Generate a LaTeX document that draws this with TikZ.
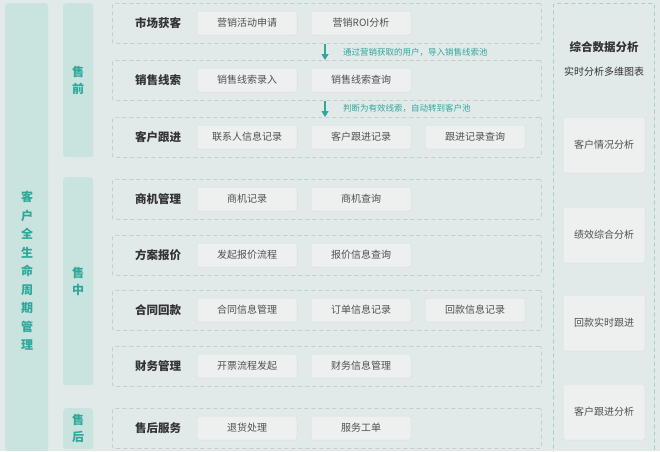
\documentclass[tikz,border=0pt]{standalone}
\usepackage{fontspec}
\setmainfont{Noto Sans CJK SC}
\usetikzlibrary{arrows.meta,calc}
\definecolor{bgc}{HTML}{E2EAE9}
\definecolor{colc}{HTML}{C9E3DF}
\definecolor{tealc}{HTML}{2FA79B}
\definecolor{dashc}{HTML}{C5CECD}
\definecolor{rdashc}{HTML}{A9CEC8}
\definecolor{itemc}{HTML}{EEEFEF}
\definecolor{itemb}{HTML}{D9DEDE}
\definecolor{titc}{HTML}{333333}
\definecolor{txtc}{HTML}{505050}
\tikzset{
  colbox/.style={fill=colc, rounded corners=3pt, inner sep=0pt, anchor=north west},
  stagetxt/.style={text=tealc, font=\fontsize{12}{17}\selectfont\bfseries, align=center},
  rowbox/.style={draw=dashc, line width=0.8pt, dash pattern=on 4pt off 3pt, rounded corners=2pt, fill=bgc, minimum width=429pt, minimum height=40pt, inner sep=0pt, anchor=north west},
  rowtitle/.style={text=titc, font=\fontsize{11.5}{13}\selectfont\bfseries},
  item/.style={fill=itemc, draw=itemb, line width=0.5pt, rounded corners=2pt, minimum width=100pt, minimum height=24pt, inner sep=0pt, text=txtc, font=\fontsize{10}{12}\selectfont},
  ritem/.style={fill=itemc, draw=itemb, line width=0.5pt, rounded corners=2pt, minimum width=82pt, minimum height=56pt, inner sep=0pt, text=txtc, font=\fontsize{10}{12}\selectfont},
  flow/.style={draw=tealc, line width=1.2pt, -{Triangle[length=6pt,width=7pt]}},
  note/.style={text=tealc, font=\fontsize{8.5}{10}\selectfont, anchor=west, inner sep=0pt},
}
\begin{document}
\begin{tikzpicture}[x=1pt,y=-1pt]
\fill[bgc] (0,0) rectangle (660,451);
\useasboundingbox (0,0) rectangle (660,451);
% left lifecycle column
\node[colbox, minimum width=43pt, minimum height=448pt] (life) at (5,3) {};
\node[stagetxt, font=\fontsize{12}{18.5}\selectfont\bfseries] (lifet) at (27,271) {客\\户\\全\\生\\命\\周\\期\\管\\理};
% stage columns
\node[colbox, minimum width=30pt, minimum height=154pt] (pre) at (63,3) {};
\node[stagetxt] (pret) at (pre.center) {售\\前};
\node[colbox, minimum width=30pt, minimum height=208pt] (mid) at (63,177) {};
\node[stagetxt] (midt) at (mid.center) {售\\中};
\node[colbox, minimum width=30pt, minimum height=41pt] (post) at (63,408) {};
\node[stagetxt] (postt) at (post.center) {售\\后};
% rows
\node[rowbox] (r1) at (112,3) {};
\node[rowbox] (r2) at (112,60) {};
\node[rowbox] (r3) at (112,117) {};
\node[rowbox] (r4) at (112,179) {};
\node[rowbox] (r5) at (112,235) {};
\node[rowbox] (r6) at (112,290) {};
\node[rowbox] (r7) at (112,346) {};
\node[rowbox] (r8) at (112,408) {};
% row titles
\node[rowtitle] (t1) at (158,23) {市场获客};
\node[rowtitle] (t2) at (158,80) {销售线索};
\node[rowtitle] (t3) at (158,137) {客户跟进};
\node[rowtitle] (t4) at (158,199) {商机管理};
\node[rowtitle] (t5) at (158,255) {方案报价};
\node[rowtitle] (t6) at (158,310) {合同回款};
\node[rowtitle] (t7) at (158,366) {财务管理};
\node[rowtitle] (t8) at (158,428) {售后服务};
% items
\node[item] (a1) at (247,23) {营销活动申请};
\node[item] (a2) at (361,23) {营销ROI分析};
\node[item] (b1) at (247,80) {销售线索录入};
\node[item] (b2) at (361,80) {销售线索查询};
\node[item] (c1) at (247,137) {联系人信息记录};
\node[item] (c2) at (361,137) {客户跟进记录};
\node[item] (c3) at (475,137) {跟进记录查询};
\node[item] (d1) at (247,199) {商机记录};
\node[item] (d2) at (361,199) {商机查询};
\node[item] (e1) at (247,255) {发起报价流程};
\node[item] (e2) at (361,255) {报价信息查询};
\node[item] (f1) at (247,310) {合同信息管理};
\node[item] (f2) at (361,310) {订单信息记录};
\node[item] (f3) at (475,310) {回款信息记录};
\node[item] (g1) at (247,366) {开票流程发起};
\node[item] (g2) at (361,366) {财务信息管理};
\node[item] (h1) at (247,428) {退货处理};
\node[item] (h2) at (361,428) {服务工单};
% flow arrows
\coordinate (ax) at (325,0);
\draw[flow] (r1.south -| ax) -- (r2.north -| ax);
\draw[flow] (r2.south -| ax) -- (r3.north -| ax);
\node[note] (n1) at (343,52) {通过营销获取的用户，导入销售线索池};
\node[note] (n2) at (343,108) {判断为有效线索，自动转到客户池};
% right analysis column
\node[draw=rdashc, line width=0.8pt, dash pattern=on 4pt off 3pt, rounded corners=2pt, minimum width=101pt, minimum height=450pt, inner sep=0pt, anchor=north west] (ana) at (553,3) {};
\node[text=titc, font=\fontsize{11.5}{13}\selectfont\bfseries] (anat) at (604,47) {综合数据分析};
\node[text=titc, font=\fontsize{10}{12}\selectfont] (anas) at (604,72) {实时分析多维图表};
\node[ritem] (s1) at (604,145) {客户情况分析};
\node[ritem] (s2) at (604,235) {绩效综合分析};
\node[ritem] (s3) at (604,323) {回款实时跟进};
\node[ritem] (s4) at (604,412) {客户跟进分析};
\end{tikzpicture}
\end{document}
